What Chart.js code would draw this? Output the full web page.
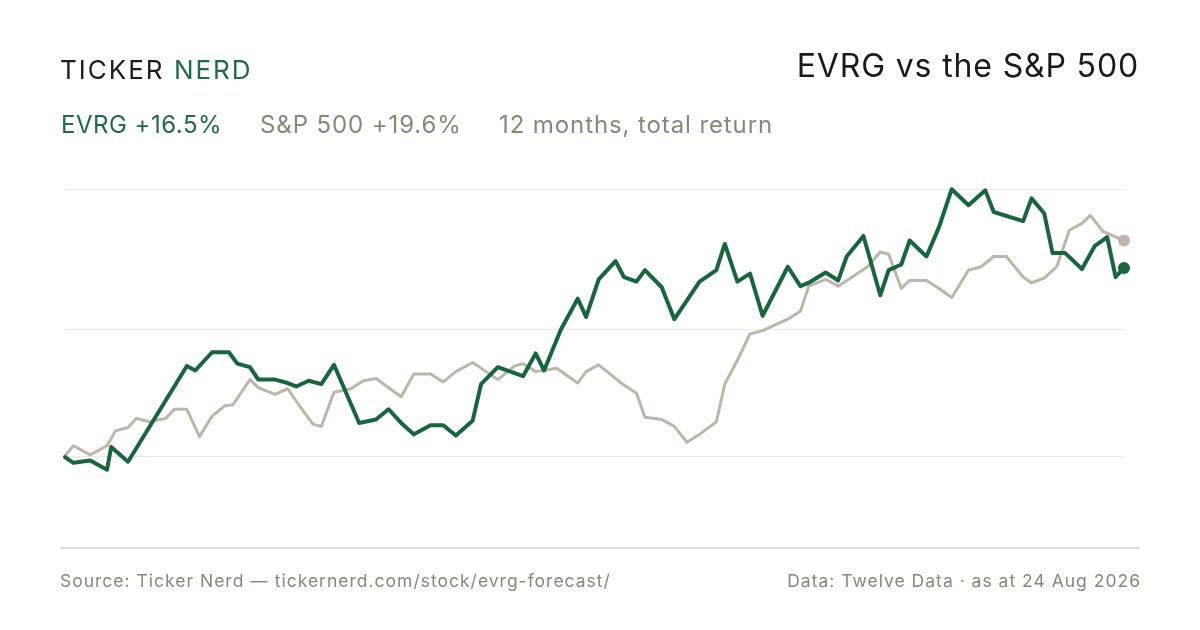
<!DOCTYPE html>
<html>
<head>
<meta charset="utf-8">
<script src="https://cdn.jsdelivr.net/npm/chart.js@4.4.1/dist/chart.umd.min.js"></script>
<style>
  html, body { margin: 0; padding: 0; background: #ffffff; }
  body { width: 1200px; height: 630px; position: relative; overflow: hidden; font-family: Inter, "Noto Sans", sans-serif; }
  .t { position: absolute; line-height: 1; white-space: nowrap; }
  #logo { left: 60px; top: 57px; font-size: 26px; letter-spacing: 2px; color: #1e1e1e; }
  #logo span { color: #1f6b45; }
  #title { right: 61px; top: 50px; font-size: 32px; letter-spacing: 0.85px; color: #1a1a1a; }
  .sub { top: 113px; font-size: 24px; letter-spacing: 0.9px; }
  #s1 { left: 61px; color: #1f6b45; letter-spacing: 0.5px; }
  #s2 { left: 260px; color: #8c8578; }
  #s3 { left: 499px; color: #8c8578; }
  .foot { top: 572px; font-size: 17.5px; letter-spacing: 1px; color: #8c8578; }
  #foot1 { left: 60px; }
  #foot2 { right: 59px; }
  #axisline { position: absolute; left: 60px; top: 547px; width: 1080px; height: 2px; background: #e2ddd3; }
  #wrap { position: absolute; left: 0; top: 0; width: 1200px; height: 630px; }
</style>
</head>
<body>
<div id="wrap"><canvas id="c" width="1200" height="630"></canvas></div>
<div id="axisline"></div>
<div class="t" id="logo">TICKER <span>NERD</span></div>
<div class="t" id="title">EVRG vs the S&amp;P 500</div>
<div class="t sub" id="s1">EVRG +16.5%</div>
<div class="t sub" id="s2">S&amp;P 500 +19.6%</div>
<div class="t sub" id="s3">12 months, total return</div>
<div class="t foot" id="foot1">Source: Ticker Nerd — tickernerd.com/stock/evrg-forecast/</div>
<div class="t foot" id="foot2">Data: Twelve Data · as at 24 Aug 2026</div>
<script>
// Trading-day index (0 = 12 months ago, 252 = 24 Aug 2026) and total return in %
const evrgDay = [0,2,6,10,11,15,29,31,35,39,41,44,46,50,53,55,58,61,64,70,74,77,80,83,87,90,93,97,99,103,109,112,114,118,122,124,127,131,133,136,138,142,145,151,155,157,160,163,166,172,175,177,181,184,186,190,194,196,199,201,205,208,211,215,219,221,228,230,233,235,238,242,245,248,250,252];
const evrgPct = [-0.1,-0.6,-0.4,-1.2,0.8,-0.5,7.9,7.5,9.1,9.1,8.1,7.8,6.7,6.7,6.4,6.1,6.6,6.3,8.0,2.9,3.2,4.1,2.9,1.9,2.7,2.7,1.8,3.1,6.3,7.8,7.0,9.0,7.5,11.1,13.8,12.2,15.5,17.1,15.7,15.3,16.3,14.8,12.0,15.3,16.3,18.6,15.3,16.0,12.3,16.6,14.9,15.2,16.1,15.4,17.5,19.3,14.1,16.3,16.8,18.9,17.5,20.1,23.4,22.0,23.3,21.4,20.6,22.6,21.3,17.8,17.8,16.4,18.4,19.2,15.7,16.5];
const spxDay = [0,2,6,10,12,15,17,20,24,26,29,32,35,38,40,44,46,50,53,56,59,61,64,68,71,74,80,83,87,90,93,97,103,107,109,112,117,122,124,127,132,136,138,142,145,148,151,155,157,160,163,166,169,172,175,177,181,184,191,194,196,199,201,205,208,211,215,218,221,224,228,230,233,236,239,242,244,247,252];
const spxPct = [0,0.9,0.1,0.9,2.2,2.5,3.3,3.0,3.3,4.1,4.1,1.7,3.5,4.4,4.5,6.7,6.0,5.4,5.9,4.3,2.8,2.6,5.6,5.9,6.6,6.8,5.2,7.2,7.2,6.5,7.4,8.2,6.7,7.9,8.1,7.4,7.7,6.4,7.4,8.0,6.5,5.5,3.4,3.2,2.6,1.2,1.9,3.0,6.3,8.4,10.7,11.0,11.5,12.0,12.7,14.9,15.5,14.9,16.6,17.9,17.7,14.7,15.4,15.4,14.7,13.9,16.3,16.6,17.5,17.5,15.7,15.2,15.6,16.6,19.8,20.4,21.1,19.7,18.9];
const gridTicks = [0, 11.14, 23.42];
const seriesNames = ['EVRG', 'S&P 500'];

const toXY = (d, v) => d.map((x, i) => ({ x: x, y: v[i] }));
const lastDot = (n, r) => (ctx) => (ctx.dataIndex === n - 1 ? r : 0);

new Chart(document.getElementById('c'), {
  type: 'line',
  data: {
    datasets: [
      {
        label: seriesNames[0],
        data: toXY(evrgDay, evrgPct),
        borderColor: '#17663e',
        backgroundColor: '#17663e',
        borderWidth: 4,
        pointRadius: lastDot(evrgDay.length, 6),
        pointBorderWidth: 0,
        pointHoverRadius: 0,
        tension: 0,
        clip: false,
        borderJoinStyle: 'round',
        borderCapStyle: 'round'
      },
      {
        label: seriesNames[1],
        data: toXY(spxDay, spxPct),
        borderColor: '#bdb6aa',
        backgroundColor: '#bdb6aa',
        borderWidth: 3,
        pointRadius: lastDot(spxDay.length, 6),
        pointBorderWidth: 0,
        pointHoverRadius: 0,
        tension: 0,
        clip: false,
        borderJoinStyle: 'round',
        borderCapStyle: 'round'
      }
    ]
  },
  options: {
    responsive: false,
    animation: false,
    devicePixelRatio: 1,
    layout: { padding: { left: 65, right: 76, top: 180, bottom: 82 } },
    plugins: { legend: { display: false }, tooltip: { enabled: false } },
    events: [],
    scales: {
      x: { type: 'linear', min: 0, max: 252, display: false },
      y: {
        type: 'linear',
        min: -8.07,
        max: 24.21,
        afterBuildTicks: (s) => { s.ticks = gridTicks.map(v => ({ value: v })); },
        afterFit: (s) => { s.width = 0; },
        ticks: { display: false },
        border: { display: false },
        grid: { color: '#ebe7e1', lineWidth: 1, drawTicks: false }
      }
    }
  }
});
</script>
</body>
</html>
